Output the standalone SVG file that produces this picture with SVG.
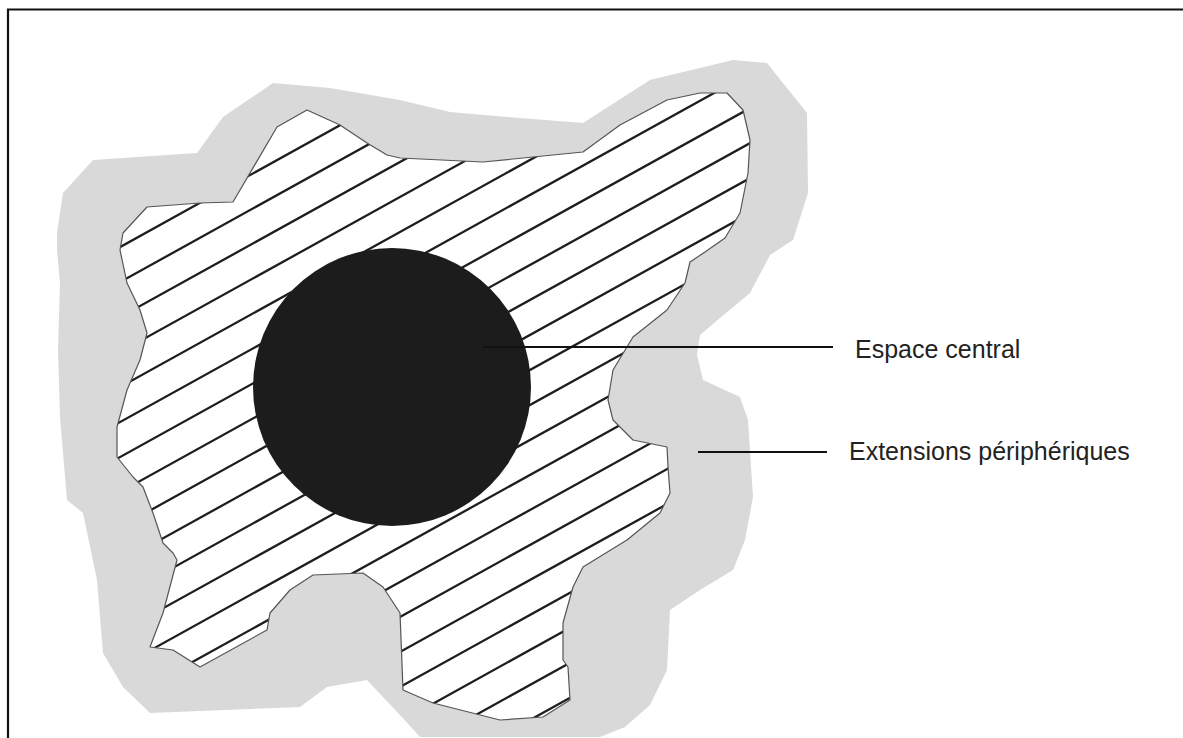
<svg xmlns="http://www.w3.org/2000/svg" width="1183" height="738" viewBox="0 0 1183 738">
<style>
.frame{fill:none;stroke:#111;stroke-width:2.2}
.outer{fill:#d9d9d9;stroke:none}
.inner{fill:#fff;stroke:none}
.innerline{fill:none;stroke:#555;stroke-width:1.2;stroke-linejoin:round}
.hatch{fill:none;stroke:#1e1e1e;stroke-width:2.3}
.core{fill:#1c1c1c}
.leader{fill:none;stroke:#111;stroke-width:2}
.label{font-family:"Liberation Sans",Arial,sans-serif;font-size:25px;fill:#222}
</style>
<defs>
<clipPath id="innerClip">
<path id="innerShape" d="M123,233 L147,207 L200,203 L233,202 L277,127 L307,110 L340,125 L367,143 L387,155 L400,158 L483,162 L583,152 L620,125 L667,100 L700,93 L727,93 L743,110 L750,140 L748,173 L740,213 L725,238 L705,252 L690,262 L685,283 L667,310 L633,337 L613,370 L608,400 L613,420 L633,440 L667,447 L668,467 L670,493 L660,513 L627,540 L583,567 L573,587 L563,623 L563,660 L568,667 L570,700 L543,717 L500,720 L433,703 L403,690 L400,613 L383,587 L363,573 L313,575 L290,590 L270,613 L267,630 L200,667 L173,650 L150,647 L163,613 L177,560 L173,553 L163,543 L153,513 L143,487 L133,477 L117,457 L117,427 L127,390 L140,360 L147,333 L140,310 L127,283 L120,250 Z"/>
</clipPath>
</defs>
<path class="frame" d="M8,738 V9.5 H1183"/>
<g id="extensions-peripheriques">
<path class="outer" d="M93,160 L197,153 L223,117 L273,83 L330,88 L400,100 L450,112 L520,118 L583,123 L650,80 L733,60 L767,63 L807,113 L808,193 L793,240 L770,255 L750,293 L720,318 L700,335 L697,355 L703,380 L740,397 L748,420 L753,497 L745,540 L733,570 L700,590 L670,610 L667,670 L650,705 L625,727 L600,737 L420,737 L400,715 L383,697 L367,680 L327,687 L300,707 L150,713 L123,687 L103,653 L97,580 L83,513 L67,500 L60,417 L58,350 L60,283 L57,250 L57,233 L63,193 Z"/>
</g>
<g id="zone-hachuree">
<use href="#innerShape" class="inner"/>
<path class="hatch" clip-path="url(#innerClip)" d="M100,993.2 L800,605.4 M100,958.2 L800,570.4 M100,923.2 L800,535.4 M100,888.2 L800,500.4 M100,853.2 L800,465.4 M100,818.2 L800,430.4 M100,783.2 L800,395.4 M100,748.2 L800,360.4 M100,713.2 L800,325.4 M100,678.2 L800,290.4 M100,643.2 L800,255.4 M100,608.2 L800,220.4 M100,573.2 L800,185.4 M100,538.2 L800,150.4 M100,503.2 L800,115.4 M100,468.2 L800,80.4 M100,433.2 L800,45.4 M100,398.2 L800,10.4 M100,363.2 L800,-24.6 M100,328.2 L800,-59.6 M100,293.2 L800,-94.6 M100,258.2 L800,-129.6 M100,223.2 L800,-164.6"/>
<use href="#innerShape" class="innerline"/>
</g>
<g id="espace-central">
<circle class="core" cx="392" cy="387" r="139"/>
</g>
<g id="connectors">
<line class="leader" x1="483" y1="347" x2="833" y2="347"/>
<line class="leader" x1="698" y1="452" x2="827" y2="452"/>
</g>
<g id="labels">
<text class="label" x="855" y="358">Espace central</text>
<text class="label" x="849" y="460">Extensions périphériques</text>
</g>
</svg>
